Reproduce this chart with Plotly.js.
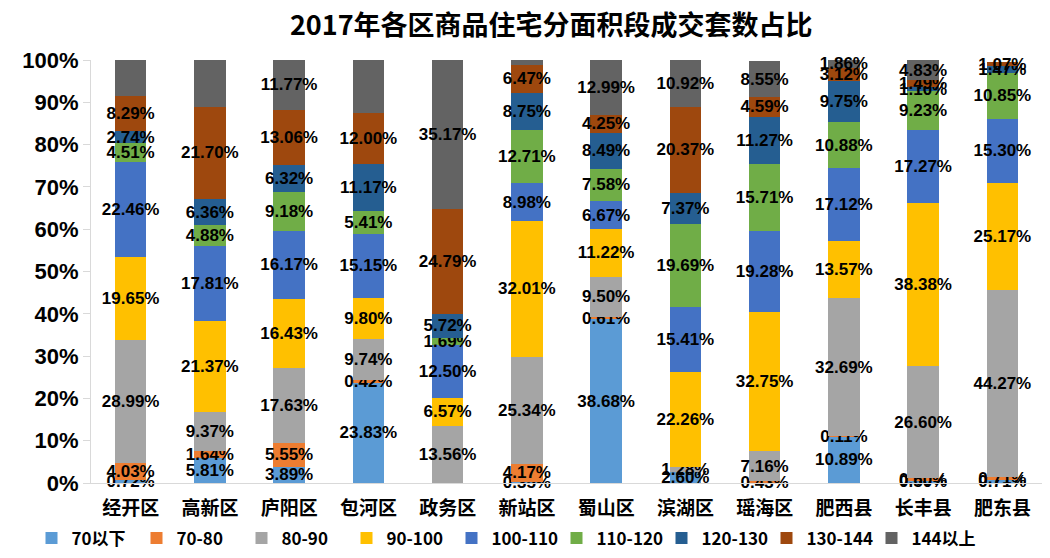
<!DOCTYPE html>
<html>
<head>
<meta charset="utf-8">
<script src="https://cdn.plot.ly/plotly-3.0.1.min.js"></script>
<style>
  body { margin: 0; background: #fff; }
  #chart { width: 1050px; height: 558px; }
</style>
</head>
<body>
<div id="chart"></div>
<script>
const districts = ['经开区', '高新区', '庐阳区', '包河区', '政务区', '新站区', '蜀山区', '滨湖区', '瑶海区', '肥西县', '长丰县', '肥东县'];

const seriesNames = ['70以下', '70-80', '80-90', '90-100', '100-110', '110-120', '120-130', '130-144', '144以上'];

// percent of units sold, per district, bottom to top
const below70  = [0.72, 5.81, 3.89, 23.83, null, 0.35, 38.68, 2.60, null, 10.89, 0.50, 0.71];
const s70_80   = [4.03, 1.64, 5.55, 0.42, null, 4.17, 0.61, null, 0.43, 0.11, 0.60, 0.71];
const s80_90   = [28.99, 9.37, 17.63, 9.74, 13.56, 25.34, 9.50, 1.28, 7.16, 32.69, 26.60, 44.27];
const s90_100  = [19.65, 21.37, 16.43, 9.80, 6.57, 32.01, 11.22, 22.26, 32.75, 13.57, 38.38, 25.17];
const s100_110 = [22.46, 17.81, 16.17, 15.15, 12.50, 8.98, 6.67, 15.41, 19.28, 17.12, 17.27, 15.30];
const s110_120 = [4.51, 4.88, 9.18, 5.41, 1.69, 12.71, 7.58, 19.69, 15.71, 10.88, 9.23, 10.85];
const s120_130 = [2.74, 6.36, 6.32, 11.17, 5.72, 8.75, 8.49, 7.37, 11.27, 9.75, 1.10, 1.47];
const s130_144 = [8.29, 21.70, 13.06, 12.00, 24.79, 6.47, 4.25, 20.37, 4.59, 3.12, 1.49, 1.07];
const above144 = [8.62, 11.07, 11.77, 12.48, 35.17, 1.24, 12.99, 10.92, 8.55, 1.86, 4.83, null];

const allSeries = [below70, s70_80, s80_90, s90_100, s100_110, s110_120, s120_130, s130_144, above144];
const colors = ['#5B9BD5', '#ED7D31', '#A5A5A5', '#FFC000', '#4472C4', '#70AD47', '#255E91', '#9E480E', '#636363'];

const numFont = 'Liberation Sans, Arial, "Noto Sans CJK SC", sans-serif';
const cjkFont = '"Noto Sans CJK SC", "Liberation Sans", sans-serif';

const data = allSeries.map((vals, i) => ({
  type: 'bar',
  name: seriesNames[i],
  x: districts,
  y: vals,
  marker: { color: colors[i] },
  text: vals.map(v => v == null ? '' : v.toFixed(2) + '%'),
  textposition: 'inside',
  insidetextanchor: 'middle',
  textangle: 0,
  constraintext: 'none',
  cliponaxis: false,
  textfont: { family: numFont, size: 17, color: '#000', weight: 'bold' },
  hoverinfo: 'x+name+y'
}));

const layout = {
  width: 1050,
  height: 558,
  barmode: 'stack',
  bargap: 0.6,
  margin: { t: 60, b: 75, l: 91, r: 8 },
  paper_bgcolor: '#fff',
  plot_bgcolor: '#fff',
  uniformtext: { mode: 'show', minsize: 17 },
  title: {
    text: '<b>2017年各区商品住宅分面积段成交套数占比</b>',
    font: { family: cjkFont, size: 27, color: '#000' },
    x: 0.525, xref: 'container', xanchor: 'center',
    y: 0.955, yref: 'container', yanchor: 'middle'
  },
  xaxis: {
    tickfont: { family: cjkFont, size: 19, color: '#000', weight: 'bold' },
    showline: true, linecolor: '#d9d9d9', linewidth: 1,
    showgrid: false, ticks: '',
    ticklabelstandoff: 8
  },
  yaxis: {
    range: [0, 100],
    tickvals: [0, 10, 20, 30, 40, 50, 60, 70, 80, 90, 100],
    ticktext: ['0%', '10%', '20%', '30%', '40%', '50%', '60%', '70%', '80%', '90%', '100%'],
    tickfont: { family: numFont, size: 22, color: '#000', weight: 'bold' },
    showline: true, linecolor: '#d9d9d9', linewidth: 1,
    ticks: 'outside', ticklen: 7, tickcolor: '#d9d9d9',
    showgrid: false, zeroline: false
  },
  legend: {
    orientation: 'h',
    x: 0.03, xref: 'container', xanchor: 'left',
    y: 0.035, yref: 'container', yanchor: 'middle',
    traceorder: 'normal',
    bgcolor: 'rgba(0,0,0,0)',
    font: { family: cjkFont, size: 17, color: '#000', weight: 'bold' },
    itemwidth: 30,
    entrywidth: 60,
    entrywidthmode: 'pixels'
  },
  showlegend: true
};

Plotly.newPlot('chart', data, layout, { displayModeBar: false });
</script>
</body>
</html>
